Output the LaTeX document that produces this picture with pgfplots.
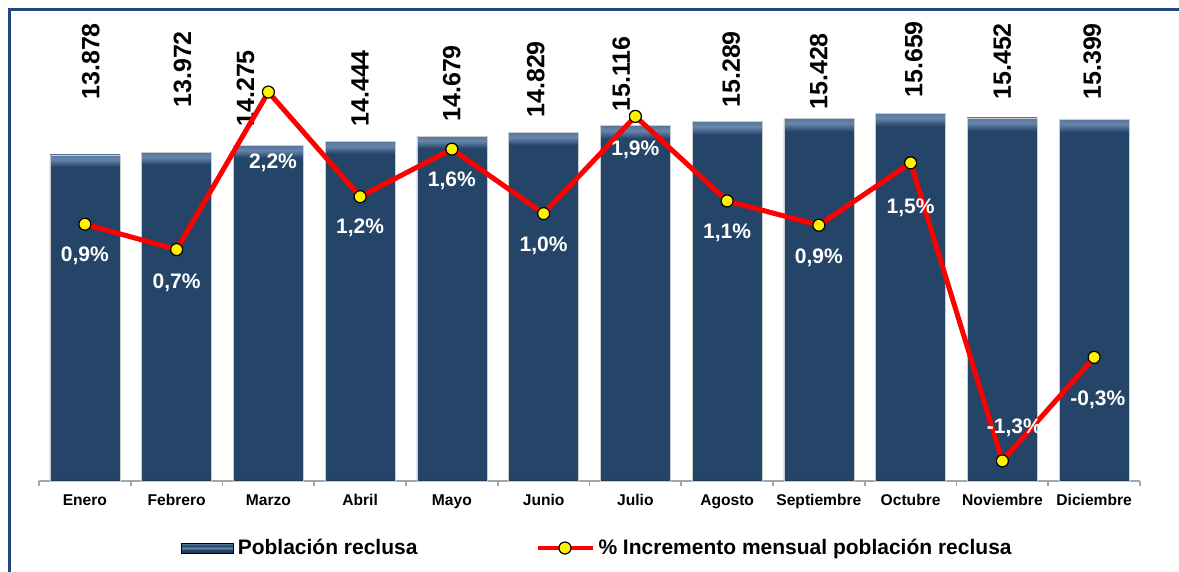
\documentclass[border=0pt]{standalone}
\usepackage{fontspec}
\setmainfont{Liberation Sans}
\usepackage{pgfplots}
\pgfplotsset{compat=1.18}
\definecolor{barblue}{RGB}{36,68,104}
\definecolor{barlight}{RGB}{104,134,172}
\definecolor{bardark}{RGB}{28,54,84}
\definecolor{framecol}{RGB}{31,73,125}
\definecolor{linered}{RGB}{255,0,0}
\pgfdeclareverticalshading{bevel}{100bp}{color(0bp)=(bardark); color(25bp)=(bardark); color(25.4bp)=(barblue); color(73.2bp)=(barblue); color(74.3bp)=(barlight); color(75bp)=(barlight!75!barblue); color(100bp)=(barlight!75!barblue)}
\pgfdeclareverticalshading{legbar}{100bp}{color(0bp)=(bardark); color(25bp)=(bardark); color(40bp)=(barblue); color(50bp)=(barlight); color(60bp)=(barblue); color(75bp)=(barlight); color(100bp)=(barlight)}
\pgfplotsset{redleg/.style={legend image code/.code={\draw[linered, line width=2pt] (0pt,0pt) -- (27.5pt,0pt); \draw[fill=yellow, draw=black, line width=0.6pt] (13.75pt,0pt) circle (3pt);}},
  onebar/.style={ybar, bar width=35pt, bar shift=0pt, draw=gray!40, line width=0.3pt, shade, shading=bevel, forget plot}}
\begin{document}
\begin{tikzpicture}
\useasboundingbox (-19.5pt,-45.5pt) rectangle (570pt,240.5pt);
\draw[framecol, line width=1.5pt] (-14.5pt,-60pt) -- (-14.5pt,235.5pt) -- (580pt,235.5pt);
\begin{axis}[
  scale only axis, width=550.5pt, height=235pt,
  xmin=-0.5, xmax=11.5, ymin=0, ymax=20000,
  clip=false,
  hide y axis,
  axis x line*=bottom,
  x axis line style={draw=gray!70, line width=0.8pt, -},
  xtick={0,...,11},
  xticklabels={Enero,Febrero,Marzo,Abril,Mayo,Junio,Julio,Agosto,Septiembre,Octubre,Noviembre,Diciembre},
  major tick length=0pt,
  minor xtick={-0.5,0.5,...,11.5},
  minor tick length=2.5pt,
  tick align=outside,
  minor tick style={draw=gray!70, line width=0.8pt},
  xticklabel style={font=\bfseries\fontsize{7.8}{9}\selectfont, text height=6pt, text depth=1.5pt, yshift=-2.5pt},
]
\addplot[onebar] coordinates {(0,13878)};
\addplot[onebar] coordinates {(1,13972)};
\addplot[onebar] coordinates {(2,14275)};
\addplot[onebar] coordinates {(3,14444)};
\addplot[onebar] coordinates {(4,14679)};
\addplot[onebar] coordinates {(5,14829)};
\addplot[onebar] coordinates {(6,15116)};
\addplot[onebar] coordinates {(7,15289)};
\addplot[onebar] coordinates {(8,15428)};
\addplot[onebar] coordinates {(9,15659)};
\addplot[onebar] coordinates {(10,15452)};
\addplot[onebar] coordinates {(11,15399)};
\begin{scope}[every node/.style={rotate=90, anchor=west, inner sep=0pt, font=\bfseries\fontsize{12.5}{14}\selectfont}]
\node at (axis cs:0.065,16212) {13.878};
\node at (axis cs:1.065,15871) {13.972};
\node at (axis cs:1.75,15063) {14.275};
\node at (axis cs:3,15063) {14.444};
\node at (axis cs:4,15275) {14.679};
\node at (axis cs:4.913,15446) {14.829};
\node at (axis cs:5.847,15701) {15.116};
\node at (axis cs:7.044,15871) {15.289};
\node at (axis cs:8,15786) {15.428};
\node at (axis cs:9.033,16297) {15.659};
\node at (axis cs:10,16212) {15.452};
\node at (axis cs:10.98,16212) {15.399};
\end{scope}
\end{axis}
\begin{axis}[
  scale only axis, width=550.5pt, height=235pt,
  xmin=-0.5, xmax=11.5, ymin=-1.51, ymax=2.937,
  clip=false,
  hide x axis, hide y axis,
  legend columns=2,
  legend style={at={(0.508,-0.1426)}, anchor=center, draw=none, fill=none,
    font=\bfseries\fontsize{10.5}{12}\selectfont,
    /tikz/every even column/.append style={column sep=57pt}},
]
\addlegendimage{legend image code/.code={\shade[shading=legbar] (0pt,-2.5pt) rectangle (26pt,2.5pt);}}
\addlegendentry{Población reclusa}
\addplot[linered, line width=2.5pt, mark=*, mark size=3pt,
  mark options={fill=yellow, draw=black, line width=0.6pt}, redleg]
  coordinates {
 (0,0.92) (1,0.68) (2,2.17) (3,1.18) (4,1.63) (5,1.02)
 (6,1.94) (7,1.14) (8,0.91) (9,1.50) (10,-1.32) (11,-0.34)};
\addlegendentry{\% Incremento mensual población reclusa}
\begin{scope}[every node/.style={text=white, inner sep=0pt, font=\bfseries\fontsize{10.5}{12}\selectfont}]
\node at (axis cs:0,0.619) {0,9\%};
\node at (axis cs:1,0.363) {0,7\%};
\node at (axis cs:2.05,1.499) {2,2\%};
\node at (axis cs:3,0.884) {1,2\%};
\node at (axis cs:4,1.328) {1,6\%};
\node at (axis cs:5,0.713) {1,0\%};
\node at (axis cs:6,1.622) {1,9\%};
\node at (axis cs:7,0.836) {1,1\%};
\node at (axis cs:8,0.600) {0,9\%};
\node at (axis cs:9,1.073) {1,5\%};
\node at (axis cs:10.13,-1.009) {-1,3\%};
\node at (axis cs:11.04,-0.744) {-0,3\%};
\end{scope}
\end{axis}
\end{tikzpicture}
\end{document}
